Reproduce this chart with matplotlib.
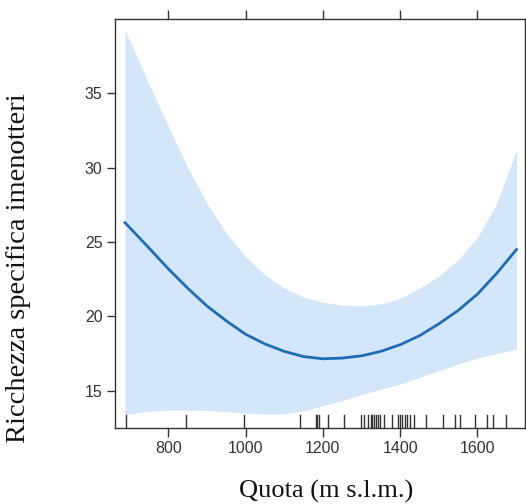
import matplotlib.pyplot as plt

# -------- DATA ------------------------------------------------------
quota = [688, 750, 800, 850, 900, 950, 1000, 1050, 1100, 1150, 1200,
         1250, 1300, 1350, 1400, 1450, 1500, 1550, 1600, 1650, 1701]
fit = [26.3, 24.6, 23.2, 21.9, 20.7, 19.7, 18.8, 18.15, 17.65, 17.3, 17.15,
       17.2, 17.35, 17.65, 18.1, 18.7, 19.5, 20.4, 21.5, 22.9, 24.5]
upper = [39.25, 35.6, 32.8, 30.0, 27.6, 25.6, 24.0, 22.8, 21.9, 21.3, 20.95,
         20.75, 20.7, 20.85, 21.2, 21.9, 22.7, 23.8, 25.3, 27.6, 31.2]
lower = [13.42, 13.62, 13.7, 13.7, 13.68, 13.6, 13.5, 13.43, 13.45, 13.65, 14.0,
         14.35, 14.75, 15.1, 15.45, 15.9, 16.35, 16.8, 17.2, 17.5, 17.8]

# rug: observed altitudes
rug = [690, 845, 995, 1141, 1181, 1186, 1191, 1213, 1255, 1298, 1307, 1316,
       1325, 1328, 1333, 1338, 1342, 1347, 1357, 1379, 1395, 1399, 1405,
       1412, 1418, 1426, 1435, 1468, 1511, 1541, 1554, 1593, 1625, 1641, 1673]

xticks = [800, 1000, 1200, 1400, 1600]
yticks = [15, 20, 25, 30, 35]
# --------------------------------------------------------------------

BAND = "#d4e6f9"
LINE = "#1f6db5"
AXC = "#333333"


def main():
    fig = plt.figure(figsize=(5.26, 5.04), dpi=100)
    ax = fig.add_axes([0.2186, 0.1514, 0.7795, 0.8103])

    ax.fill_between(quota, lower, upper, color=BAND, linewidth=0)
    ax.plot(quota, fit, color=LINE, linewidth=2.0)

    # rug along the bottom
    for r in rug:
        ax.axvline(r, ymin=0, ymax=0.032, color=AXC, linewidth=1.0)

    ax.set_xlim(662, 1723)
    ax.set_ylim(12.52, 39.97)

    ax.set_xticks(xticks)
    ax.set_yticks(yticks)
    ax.tick_params(axis="x", which="both", top=True, bottom=True,
                   labeltop=False, direction="out", length=6.5, width=1,
                   color=AXC, labelsize=11.5, labelcolor=AXC, pad=3)
    ax.tick_params(axis="y", left=True, right=False, direction="out",
                   length=6, width=1, color=AXC, labelsize=11.5,
                   labelcolor=AXC, pad=3)
    for lab in ax.get_xticklabels() + ax.get_yticklabels():
        lab.set_family("Liberation Sans")

    for sp in ax.spines.values():
        sp.set_color(AXC)
        sp.set_linewidth(1.0)

    ax.set_xlabel("Quota (m s.l.m.)", family="Liberation Serif",
                  fontsize=19, color="#111111")
    ax.set_ylabel("Ricchezza specifica imenotteri", family="Liberation Serif",
                  fontsize=20.5, color="#111111")
    ax.xaxis.set_label_coords(0.515, -0.128)
    ax.yaxis.set_label_coords(-0.205, 0.39)

    fig.savefig("out.png", dpi=100)


if __name__ == "__main__":
    main()
